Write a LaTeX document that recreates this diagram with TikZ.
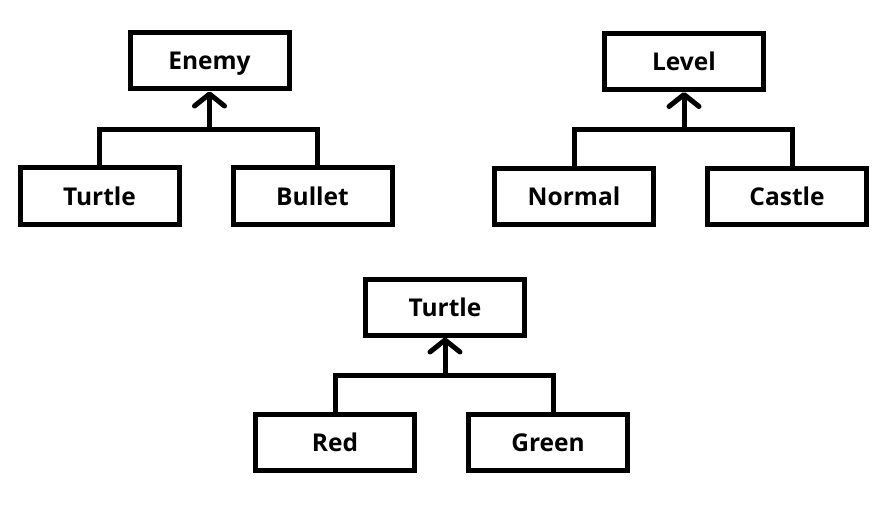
\documentclass[tikz,border=0pt]{standalone}
\usepackage{fontspec}
\setmainfont{Open Sans}
\usetikzlibrary{calc}
\usetikzlibrary{arrows.meta}
\usetikzlibrary{positioning}
\tikzset{cls/.style={rectangle,draw=black,line width=5pt,minimum width=159pt,minimum height=56pt,inner sep=0pt,text height=22pt,text depth=4pt,font=\bfseries\fontsize{24.5}{24.5}\selectfont}}
\tikzset{inh/.style={line width=5pt}}
\tikzset{tip/.style={-{Straight Barb[length=12pt,width=30pt,round]}}}

\begin{document}
\begin{tikzpicture}[x=1pt,y=-1pt]
\useasboundingbox (0,0) rectangle (888,513);

\foreach \k / \p / \l / \r / \x / \y in {1/Enemy/Turtle/Bullet/209.5/61,2/Level/Normal/Castle/684/61.5,3/Turtle/Red/Green/445/307}
{
	\node (P\k) at (\x,\y) [cls] {\p};
	\node (L\k) at ($ (P\k)+(-110,135) $) [cls] {\l};
	\node (R\k) at ($ (P\k)+(103,135) $) [cls] {\r};
	\coordinate (B\k) at ($ (P\k.south)+(0,38) $);
	\draw[inh] (L\k.north) |- (B\k) -| ($ (R\k.north)+(5,0) $);
	\draw[inh,tip] (B\k) -- (P\k.south);
}
\end{tikzpicture}
\end{document}
